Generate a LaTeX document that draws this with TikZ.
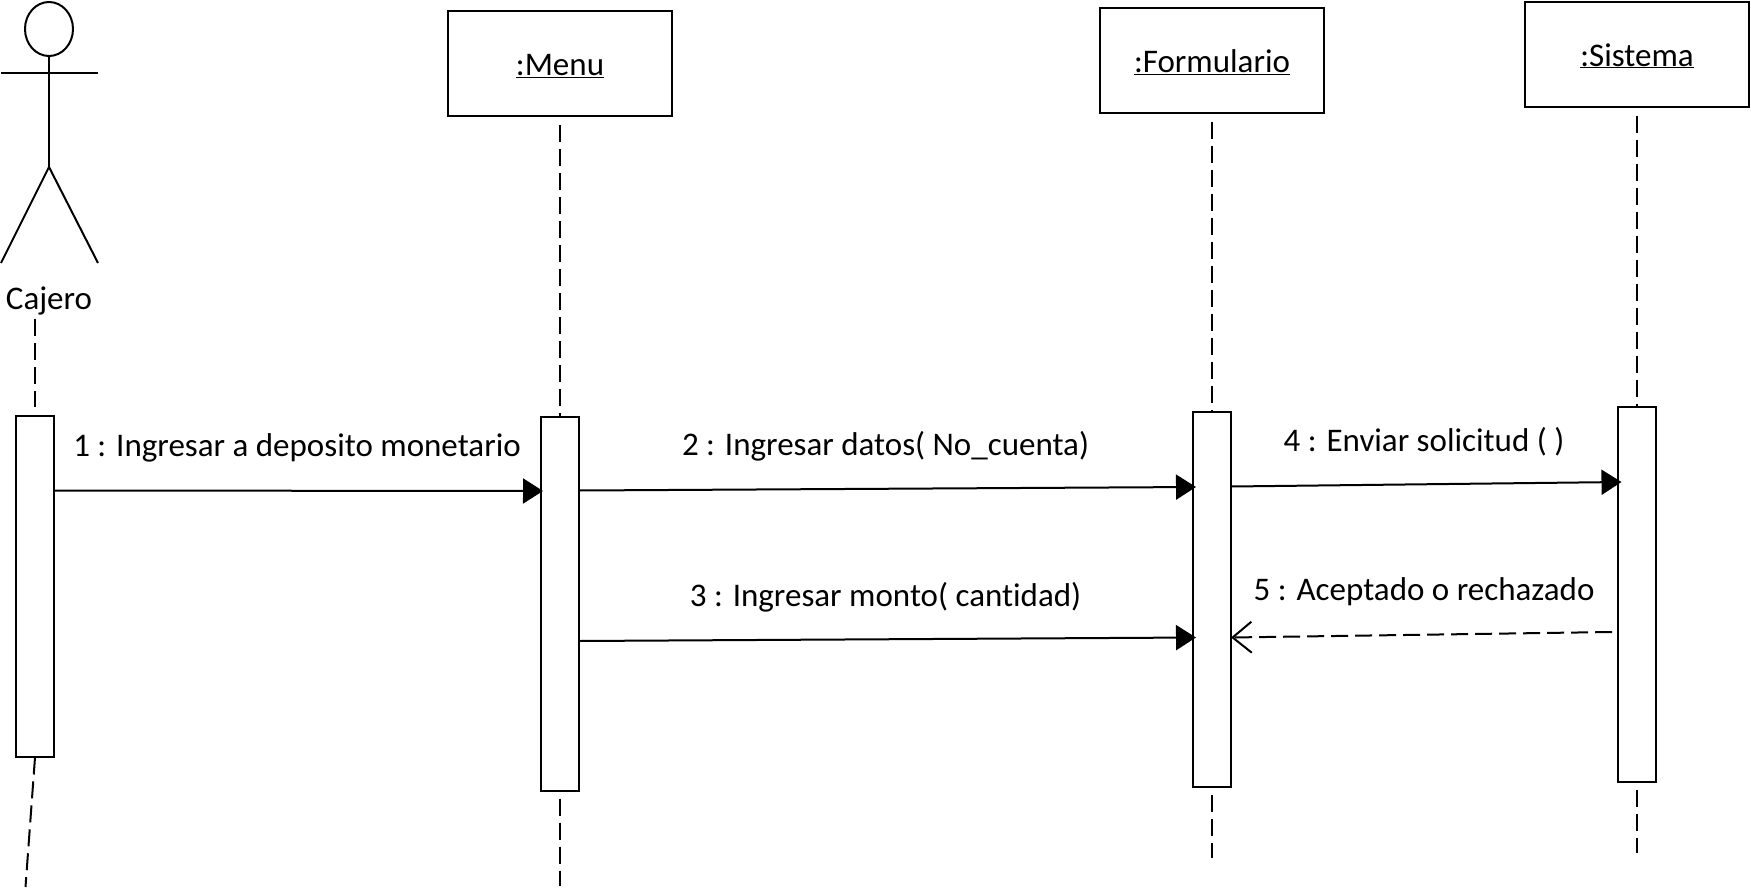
\documentclass[tikz,border=0pt]{standalone}
\usepackage{fontspec}
\setmainfont{Carlito}[Ligatures=NoCommon]
\usetikzlibrary{arrows.meta,shapes.geometric}
\tikzset{
  objbox/.style={draw,line width=2pt,minimum width=224pt,minimum height=105pt,text height=26pt,text depth=2pt,font=\fontsize{33}{38}\selectfont},
  actbox/.style={draw,line width=2pt,fill=white,minimum width=38pt,inner sep=0pt},
  msg/.style={font=\fontsize{33}{38}\selectfont,inner sep=0pt},
  lifeline/.style={line width=2pt,dash pattern=on 17pt off 7pt},
  call/.style={line width=2pt,-{Triangle[length=20pt,width=25pt]}},
  reply/.style={line width=2pt,dash pattern=on 17pt off 7pt,-{Straight Barb[length=19pt,width=31pt,line width=2pt]}},
  limb/.style={line width=2pt}
}
\begin{document}
\begin{tikzpicture}[x=1pt,y=-1pt]
\useasboundingbox (0,0) rectangle (1751,889);
\node[objbox] (menu) at (560,63.5) {\underline{:Menu}};
\node[objbox] (formulario) at (1212,60.5) {\underline{:Formulario}};
\node[objbox] (sistema) at (1637,54) {\underline{:Sistema}};
\node[actbox,minimum height=341pt] (cajeroact) at (35,586) {};
\node[actbox,minimum height=374pt] (menuact) at (560,603.5) {};
\node[actbox,minimum height=375pt] (formact) at (1212,599.5) {};
\node[actbox,minimum height=375pt] (sisact) at (1637,594) {};
\node[draw,ellipse,line width=2pt,minimum width=48pt,minimum height=54pt,inner sep=0pt] (head) at (49,29) {};
\node[msg] (cajero) at (49,300.5) {Cajero};
\coordinate (hip) at (49,167);
\coordinate (armleft) at (1,72.5);
\coordinate (armright) at (98,72.5);
\coordinate (footleft) at (1,263);
\coordinate (footright) at (98,263);
\draw[limb] (head.south) -- (hip);
\draw[limb] (armleft) -- (armright);
\draw[limb] (footleft) -- (hip) -- (footright);
\coordinate (cajerotop) at (35,319);
\coordinate (cajeroend) at (25.5,887);
\coordinate (menuend) at (560,886);
\coordinate (formend) at (1212,858);
\coordinate (sisend) at (1637,853);
\draw[lifeline] (cajerotop) -- ([yshift=8pt]cajeroact.north);
\draw[lifeline] (cajeroact.south) -- (cajeroend);
\draw[lifeline,shorten <=8pt] (menu.south) -- (menuact.north);
\draw[lifeline,shorten <=7pt] (menuact.south) -- (menuend);
\draw[lifeline,shorten <=8pt] (formulario.south) -- (formact.north);
\draw[lifeline,shorten <=7pt] (formact.south) -- (formend);
\draw[lifeline,shorten <=8pt] (sistema.south) -- (sisact.north);
\draw[lifeline,shorten <=7pt] (sisact.south) -- (sisend);
\coordinate (a1) at (54,490.5);
\coordinate (b1) at (543,491);
\coordinate (a2) at (579,490.5);
\coordinate (b2) at (1196,487);
\coordinate (a3) at (579,641);
\coordinate (b3) at (1196,637.5);
\coordinate (a4) at (1231,486.5);
\coordinate (b4) at (1621.5,482);
\coordinate (a5) at (1612,632);
\coordinate (b5) at (1231,637.5);
\draw[call] (a1) -- (b1);
\draw[call] (a2) -- (b2);
\draw[call] (a3) -- (b3);
\draw[call] (a4) -- (b4);
\draw[reply] (a5) -- (b5);
\node[msg] (m1) at (297,448) {1 : Ingresar a deposito monetario};
\node[msg] (m2) at (885.5,446) {2 : Ingresar datos( No\_cuenta)};
\node[msg] (m3) at (885.5,597) {3 : Ingresar monto( cantidad)};
\node[msg] (m4) at (1424,442) {4 : Enviar solicitud ( )};
\node[msg] (m5) at (1424,591.5) {5 : Aceptado o rechazado};
\end{tikzpicture}
\end{document}
